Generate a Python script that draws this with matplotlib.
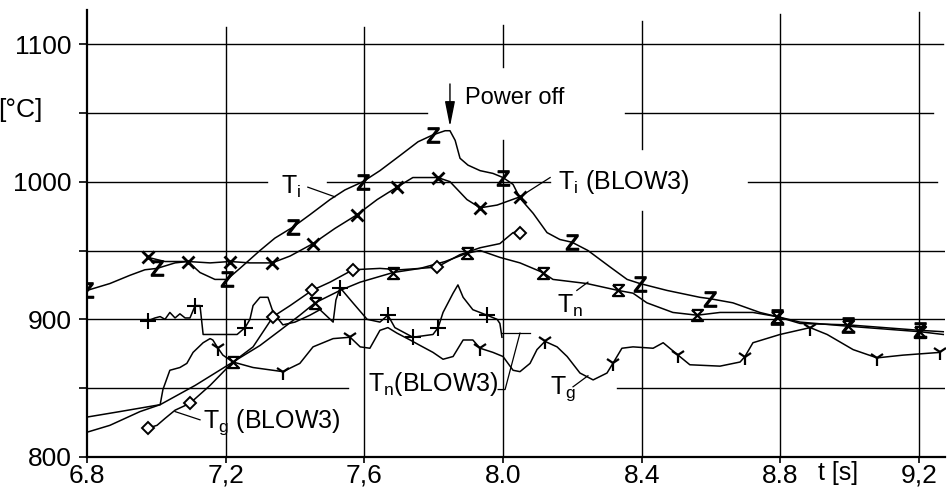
import matplotlib
matplotlib.use("Agg")
import matplotlib.pyplot as plt
from matplotlib import font_manager

# ── fonts ────────────────────────────────────────────────────────────
_names = {f.name for f in font_manager.fontManager.ttflist}
FONT = "Liberation Sans Narrow" if "Liberation Sans Narrow" in _names else "Liberation Sans"
plt.rcParams.update({
    "font.family": [FONT, "DejaVu Sans"],
    "mathtext.fontset": "custom",
    "mathtext.rm": FONT,
    "mathtext.it": FONT,
    "font.size": 17,
    "axes.linewidth": 1.6,
})

# ── data (time in s, temperature in °C) ──────────────────────────────
ti_t = [6.80, 6.866, 6.924, 6.967, 7.002, 7.054, 7.091, 7.126, 7.169, 7.204,
        7.241, 7.299, 7.342, 7.394, 7.443, 7.501, 7.544, 7.596, 7.645, 7.703,
        7.755, 7.798, 7.833, 7.847, 7.862, 7.876, 7.899, 7.934, 7.971, 8.000,
        8.029, 8.049, 8.087, 8.127, 8.164, 8.199, 8.245, 8.309, 8.358, 8.395,
        8.473, 8.568, 8.597, 8.663, 8.741, 8.790, 8.857, 8.995, 9.203, 9.27]
ti_T = [921, 926, 932, 936, 937, 941, 942, 934, 929, 929,
        937, 950, 959, 967, 976, 987, 994, 1000, 1008, 1019,
        1029, 1034, 1037, 1037, 1030, 1017, 1012, 1008, 1006, 1003,
        998, 988, 977, 963, 958, 956, 950, 938, 929, 926,
        921, 916, 915, 912, 905, 902, 897, 896, 892, 891]

tib_t = [6.976, 7.025, 7.091, 7.155, 7.213, 7.270, 7.334, 7.386, 7.452, 7.515,
         7.579, 7.637, 7.694, 7.740, 7.812, 7.847, 7.896, 7.934, 7.983, 8.049]
tib_T = [945, 942, 942, 941, 942, 941, 941, 946, 955, 966,
         976, 987, 996, 1003, 1003, 1000, 987, 981, 983, 989]

tn_t = [6.80, 6.895, 7.011, 7.112, 7.221, 7.299, 7.357, 7.414, 7.458, 7.530,
        7.588, 7.683, 7.761, 7.833, 7.896, 7.934, 7.991, 8.049, 8.115, 8.144,
        8.242, 8.332, 8.375, 8.415, 8.490, 8.560, 8.626, 8.721, 8.790, 8.857,
        8.995, 9.203, 9.27]
tn_T = [829, 833, 838, 852, 869, 881, 892, 903, 912, 921,
        927, 934, 937, 942, 948, 950, 945, 941, 934, 929,
        926, 921, 919, 912, 905, 903, 905, 905, 902, 898,
        895, 891, 889]

tnb_t = [6.976, 6.996, 7.011, 7.025, 7.039, 7.054, 7.068, 7.083, 7.097, 7.112,
         7.126, 7.135, 7.233, 7.256, 7.270, 7.279, 7.299, 7.322, 7.337, 7.365,
         7.400, 7.443, 7.472, 7.510, 7.518, 7.530, 7.567, 7.608, 7.645, 7.668,
         7.688, 7.740, 7.798, 7.813, 7.827, 7.856, 7.870, 7.885, 7.913, 7.954,
         7.983, 7.991, 7.997]
tnb_T = [899, 901, 902, 900, 905, 901, 904, 901, 901, 910,
         910, 889, 889, 894, 900, 910, 916, 916, 905, 896,
         898, 903, 907, 898, 914, 923, 912, 900, 898, 903,
         894, 887, 889, 894, 905, 919, 925, 916, 907, 903,
         900, 897, 887]

tg_t = [6.80, 6.866, 6.953, 7.011, 7.019, 7.039, 7.068, 7.088, 7.106, 7.135,
        7.155, 7.163, 7.178, 7.192, 7.221, 7.279, 7.365, 7.414, 7.452, 7.510,
        7.559, 7.588, 7.616, 7.645, 7.668, 7.694, 7.732, 7.761, 7.798, 7.827,
        7.856, 7.885, 7.913, 7.934, 7.971, 8.000, 8.029, 8.049, 8.078, 8.098,
        8.121, 8.156, 8.185, 8.222, 8.260, 8.300, 8.317, 8.343, 8.375, 8.433,
        8.462, 8.505, 8.539, 8.626, 8.684, 8.698, 8.721, 8.799, 8.886, 8.935,
        9.010, 9.079, 9.154, 9.261]
tg_T = [818, 823, 833, 838, 849, 863, 865, 868, 876, 883,
        886, 885, 879, 874, 869, 865, 862, 868, 880, 886,
        887, 880, 879, 892, 894, 890, 885, 881, 876, 871,
        873, 885, 885, 879, 876, 873, 863, 862, 868, 878,
        884, 880, 873, 861, 856, 861, 868, 879, 880, 879,
        883, 874, 867, 866, 869, 873, 883, 889, 894, 889,
        878, 872, 874, 876]

tgb_t = [6.976, 7.002, 7.025, 7.054, 7.097, 7.155, 7.221, 7.279, 7.337, 7.386,
         7.449, 7.501, 7.567, 7.645, 7.703, 7.761, 7.810, 7.876, 7.934, 7.991,
         8.029, 8.049]
tgb_T = [821, 823, 828, 834, 839, 852, 869, 880, 902, 910,
         921, 927, 936, 937, 936, 937, 938, 947, 952, 955,
         963, 963]

x_ticks = [6.8, 7.2, 7.6, 8.0, 8.4, 8.8, 9.2]
x_labels = ["6.8", "7,2", "7,6", "8.0", "8.4", "8.8", "9,2"]
y_ticks = [800, 850, 900, 950, 1000, 1050, 1100]
y_labels = ["800", "", "900", "", "1000", "", "1100"]

HOURGLASS = [(-1, 1), (1, 1), (-1, -1), (1, -1), (-1, 1)]

# ── figure ───────────────────────────────────────────────────────────
fig = plt.figure(figsize=(9.49, 4.97), dpi=100)
ax = fig.add_axes([87 / 949, 40 / 497, 858 / 949, 447 / 497])
ax.set_xlim(6.8, 9.275)
ax.set_ylim(800, 1124.7)
for s in ("top", "right"):
    ax.spines[s].set_visible(False)


def hseg(y, pieces):
    for x0, x1 in pieces:
        ax.plot([x0, x1], [y, y], color="black", lw=1.0, zorder=1)


def vseg(x, pieces):
    for y0, y1 in pieces:
        ax.plot([x, x], [y0, y1], color="black", lw=1.0, zorder=1)


# hand-drawn style grid with gaps where the annotations sit
hseg(1100, [(6.8, 9.27)])
hseg(1050, [(6.8, 7.781), (8.352, 9.24)])
hseg(1000, [(6.8, 7.319), (7.492, 8.136), (8.707, 9.252)])
hseg(950, [(6.8, 9.275)])
hseg(900, [(6.8, 9.275)])
hseg(850, [(6.8, 7.553), (8.329, 9.275)])
vseg(7.2, [(800, 1112)])
vseg(7.6, [(800, 1112)])
vseg(8.0, [(800, 1030), (1083, 1114)])
vseg(8.4, [(800, 979), (1024, 1117)])
vseg(8.8, [(800, 1122)])
vseg(9.2, [(800, 1123)])

LINE = dict(color="black", lw=1.1, zorder=3)
ax.plot(ti_t, ti_T, marker="$Z$", ms=11, markevery=[0, 4, 9, 13, 17, 21, 29, 35, 39, 42, 45, 47, 48], **LINE)
ax.plot(tib_t, tib_T, marker="x", ms=9, mew=2.0, markevery=[0, 2, 4, 6, 8, 10, 12, 14, 17, 19], **LINE)
ax.plot(tn_t, tn_T, marker=HOURGLASS, ms=8, mew=1.6, mfc="none",
        markevery=[4, 8, 11, 14, 18, 21, 25, 28, 30, 31], **LINE)
ax.plot(tnb_t, tnb_T, marker="+", ms=11, mew=1.5, markevery=[0, 9, 13, 25, 29, 31, 33, 39], **LINE)
ax.plot(tg_t, tg_T, marker="1", ms=11, mew=1.6,
        markevery=[12, 16, 20, 33, 40, 46, 51, 55, 58, 61, 63], **LINE)
ax.plot(tgb_t, tgb_T, marker="D", ms=6, mew=1.4, mfc="white",
        markevery=[0, 4, 8, 10, 12, 16, 21], **LINE)

# ── ticks ────────────────────────────────────────────────────────────
ax.set_xticks(x_ticks)
ax.set_xticklabels(x_labels, fontsize=19)
ax.set_yticks(y_ticks)
ax.set_yticklabels(y_labels, fontsize=19)
ax.tick_params(axis="y", direction="out", length=6, width=1.2, pad=5)
ax.tick_params(axis="x", direction="out", length=4, width=1.2, pad=1)

fig.text(43 / 949, 1 - 110 / 497, "[°C]", ha="right", va="center", fontsize=19)
ax.text(8.966, 797, "t [s]", ha="center", va="top", fontsize=18, clip_on=False)

# ── annotations ──────────────────────────────────────────────────────
LEAD = dict(color="black", lw=0.9, zorder=2)
ax.text(7.388, 996, r"T$_\mathregular{i}$", ha="center", va="center", fontsize=18)
ax.plot([7.437, 7.515], [996, 989], **LEAD)

ax.text(8.159, 1000, r"T$_\mathregular{i}$ (BLOW3)", ha="left", va="center", fontsize=18)
ax.plot([8.055, 8.136], [990, 1003], **LEAD)

ax.text(7.89, 1061, "Power off", ha="left", va="center", fontsize=17)
ax.annotate("", xy=(7.847, 1038), xytext=(7.847, 1073),
            arrowprops=dict(arrowstyle="-|>,head_length=0.9,head_width=0.18",
                            color="black", lw=1.0))

ax.text(8.156, 910, r"T$_\mathregular{n}$", ha="left", va="center", fontsize=18)
ax.plot([8.213, 8.245], [921, 927], **LEAD)

ax.text(7.798, 853, r"T$_\mathregular{n}$(BLOW3)", ha="center", va="center", fontsize=18)
ax.plot([7.997, 8.078], [890, 890], **LEAD)
ax.plot([8.049, 8.006, 7.986], [890, 849, 849], **LEAD)

ax.text(8.136, 850, r"T$_\mathregular{g}$", ha="left", va="center", fontsize=18)
ax.plot([8.202, 8.245], [851, 859], **LEAD)

ax.text(7.135, 825, r"T$_\mathregular{g}$ (BLOW3)", ha="left", va="center", fontsize=18)
ax.plot([7.126, 7.054], [827, 833], **LEAD)

fig.savefig("out.png", dpi=100)
